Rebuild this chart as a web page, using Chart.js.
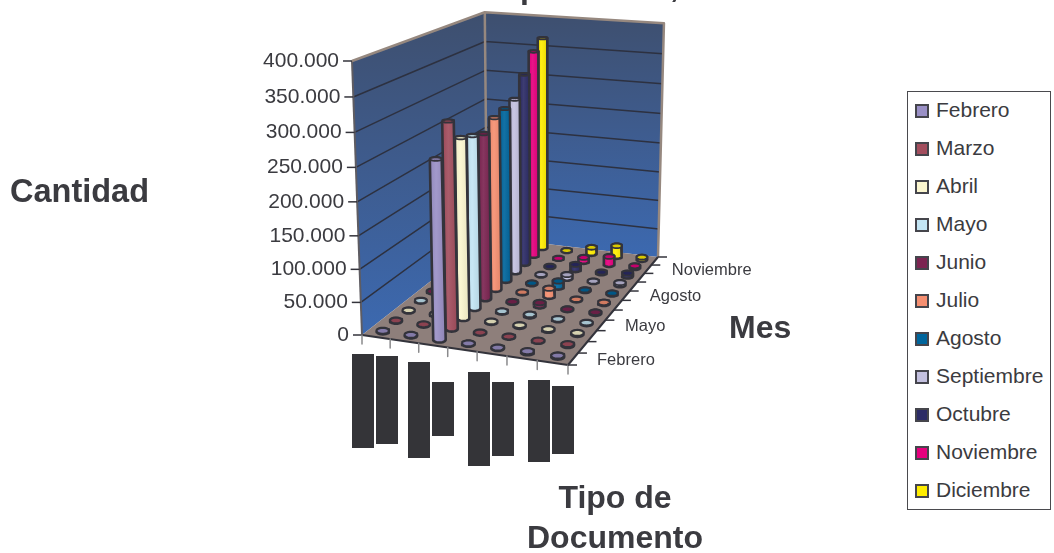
<!DOCTYPE html>
<html lang="es">
<head>
<meta charset="UTF-8">
<title>Cantidad por tipo de documento y mes</title>
<script src="https://cdn.jsdelivr.net/npm/chart.js"></script>
<style>
    html, body { margin: 0; padding: 0; background: #fff; overflow: hidden; }
    body { width: 1054px; height: 553px; position: relative; font-family: "Liberation Sans", Arial, sans-serif; }
    canvas { position: absolute; left: 0; top: 0; }
    #legend {
        position: absolute; left: 907px; top: 91px; width: 142px; height: 417px;
        border: 1px solid #4a4a4e; background: #fff; box-sizing: content-box;
    }
    .legend-item {
        position: absolute; left: 7px; height: 38px; line-height: 36px;
        font-size: 21px; color: #3b3b40; white-space: nowrap;
    }
    .legend-color {
        position: absolute; left: 0; top: 12px; width: 10px; height: 10px;
        border: 2px solid #45454c;
    }
    .legend-item b { font-weight: normal; margin-left: 21px; }
</style>
</head>
<body>
<canvas id="chart" width="1054" height="553"></canvas>
<div id="legend"></div>

<script>
// datos
const meses = ['Febrero', 'Marzo', 'Abril', 'Mayo', 'Junio', 'Julio', 'Agosto', 'Septiembre', 'Octubre', 'Noviembre', 'Diciembre'];
const etiquetasMes = ['Febrero', 'Mayo', 'Agosto', 'Noviembre'];
const ticksCantidad = [0, 50000, 100000, 150000, 200000, 250000, 300000, 350000, 400000];
const cantidadMax = 400000;
const numTipos = 7; // tipos de documento, nombres tapados en el original

const febrero    = [1200, 1200, 267000,  800,   800,  1800, 1800];
const marzo      = [ 800,  800, 311000,  500,   500,   500, 1500];
const abril      = [ 800,  800, 277000, 1200,  1500,  1500, 1800];
const mayo       = [ 800,  800, 270000, 1200,  2000,  1000, 1200];
const junio      = [ 500,  500, 263000,  800,  5000,   500, 1500];
const julio      = [ 500,  500, 278000, 1000, 13000,   800, 1500];
const agosto     = [ 500,  500, 283000, 1000, 10000,   800, 1200];
const septiembre = [ 500,  500, 289000,  800,  6000,   500, 3500];
const octubre    = [ 300,  300, 321000,  200,  9000,  1200, 5000];
const noviembre  = [ 200,  200, 351000,  200,  7000, 14000, 3000];
const diciembre  = [ 200,  200, 366000,  200, 11000, 19000, 4000];
const series = [febrero, marzo, abril, mayo, junio, julio, agosto, septiembre, octubre, noviembre, diciembre];

const colores = ['#9a90c6', '#a34e5e', '#fbf6cf', '#c3e5f4', '#7c2451', '#f58f71', '#00659c', '#c3c0df', '#2c2b66', '#e6007e', '#ffed00'];

const TINTA = '#33333b';
const TEXTO = '#3b3b40';
const TAUPE = '#96887f';

// proyeccion de la caja 3D al lienzo: suelo (homografia) + punto de fuga vertical
const suelo = { o: [362, 335], u: [568, 365], uv: [658, 257], v: [487, 237] };
const fuga = [535, 5084];
const alturaC = -0.05455;

const dx1 = suelo.u[0] - suelo.uv[0], dx2 = suelo.v[0] - suelo.uv[0], sx = suelo.o[0] - suelo.u[0] + suelo.uv[0] - suelo.v[0];
const dy1 = suelo.u[1] - suelo.uv[1], dy2 = suelo.v[1] - suelo.uv[1], sy = suelo.o[1] - suelo.u[1] + suelo.uv[1] - suelo.v[1];
const den = dx1 * dy2 - dx2 * dy1;
const g = (sx * dy2 - dx2 * sy) / den;
const h = (dx1 * sy - sx * dy1) / den;

function proyecta(u, v, f) {
    const w = 1 + g * u + h * v;
    const nx = suelo.o[0] + (suelo.u[0] - suelo.o[0] + g * suelo.u[0]) * u + (suelo.v[0] - suelo.o[0] + h * suelo.v[0]) * v;
    const ny = suelo.o[1] + (suelo.u[1] - suelo.o[1] + g * suelo.u[1]) * u + (suelo.v[1] - suelo.o[1] + h * suelo.v[1]) * v;
    const c = alturaC * f;
    return { x: (nx + c * fuga[0]) / (w + c), y: (ny + c * fuga[1]) / (w + c) };
}

function envolvente(pts) {
    const p = pts.slice().sort((a, b) => a.x - b.x || a.y - b.y);
    const cross = (o, a, b) => (a.x - o.x) * (b.y - o.y) - (a.y - o.y) * (b.x - o.x);
    const lo = [], up = [];
    p.forEach(q => {
        while (lo.length > 1 && cross(lo[lo.length - 2], lo[lo.length - 1], q) <= 0) lo.pop();
        lo.push(q);
    });
    p.slice().reverse().forEach(q => {
        while (up.length > 1 && cross(up[up.length - 2], up[up.length - 1], q) <= 0) up.pop();
        up.push(q);
    });
    lo.pop(); up.pop();
    return lo.concat(up);
}

function mezcla(hex, a) {
    // a>0 aclara, a<0 oscurece
    const n = parseInt(hex.slice(1), 16);
    const t = a > 0 ? 255 : 0, k = Math.abs(a);
    const c = [n >> 16, (n >> 8) & 255, n & 255].map(v => Math.round(v + (t - v) * k));
    return `rgb(${c[0]},${c[1]},${c[2]})`;
}

const canvas = document.getElementById('chart');
const ctx = canvas.getContext('2d');
const capas = [];

function poly(pts, fillColor, lineColor, lineWidth, label) {
    const cerrado = fillColor ? pts.concat([pts[0]]) : pts;
    capas.push({
        label: label || '',
        data: cerrado,
        showLine: true,
        fill: fillColor ? 'shape' : false,
        backgroundColor: fillColor || 'transparent',
        borderColor: lineColor || 'transparent',
        borderWidth: lineColor ? lineWidth : 0,
        borderJoinStyle: 'round',
        borderCapStyle: 'butt',
        pointRadius: 0,
        pointHoverRadius: 0,
        clip: false
    });
}

// paredes
const degrPared = ctx.createLinearGradient(0, 11, 0, 335);
degrPared.addColorStop(0, '#3e4f6e');
degrPared.addColorStop(0.5, '#3e5c8f');
degrPared.addColorStop(1, '#3c69b0');
const degrFondo = ctx.createLinearGradient(0, 11, 0, 257);
degrFondo.addColorStop(0, '#3e4f6e');
degrFondo.addColorStop(0.5, '#3e5c8f');
degrFondo.addColorStop(1, '#3c69b0');

poly([proyecta(0, 0, 0), proyecta(0, 1, 0), proyecta(0, 1, 1), proyecta(0, 0, 1)], degrPared);
poly([proyecta(0, 1, 0), proyecta(1, 1, 0), proyecta(1, 1, 1), proyecta(0, 1, 1)], degrFondo);
poly([proyecta(0, 0, 0), proyecta(1, 0, 0), proyecta(1, 1, 0), proyecta(0, 1, 0)], '#8e7f7b');

// rejilla en las paredes
ticksCantidad.slice(1, -1).forEach(t => {
    const f = t / cantidadMax;
    poly([proyecta(0, 0, f), proyecta(0, 1, f), proyecta(1, 1, f)], null, '#2d3140', 1.5);
});

// bordes
poly([proyecta(0, 0, 0), proyecta(0, 0, 1)], null, '#5e5c62', 2);
poly([proyecta(0, 0, 1), proyecta(0, 1, 1), proyecta(1, 1, 1), proyecta(1, 1, 0)], null, TAUPE, 2.5);
poly([proyecta(0, 1, 0), proyecta(0, 1, 1)], null, TAUPE, 2.5);
poly([proyecta(0, 0, 0), proyecta(1, 0, 0), proyecta(1, 1, 0)], null, TINTA, 2);

// marcas de los ejes
ticksCantidad.forEach(t => {
    const p = proyecta(0, 0, t / cantidadMax);
    poly([{ x: p.x - 9, y: p.y }, p], null, TINTA, 1.5);
});
for (let i = 0; i <= numTipos; i++) {
    const p = proyecta(i / numTipos, 0, 0);
    poly([p, { x: p.x, y: p.y + 9 }], null, '#8a8a8c', 1.5);
}
for (let j = 0; j <= meses.length; j++) {
    const p = proyecta(1, j / meses.length, 0);
    poly([p, { x: p.x + 9, y: p.y }], null, TINTA, 1.5);
}

// etiquetas de categoria tapadas en el original: [izq, der, arriba, abajo]
const tapados = [
    [352, 374, 354, 448], [376, 398, 356, 444], [408, 430, 362, 458], [432, 454, 382, 436],
    [468, 490, 372, 466], [492, 514, 382, 456], [528, 550, 380, 462], [552, 574, 386, 454]
];
tapados.forEach(b => poly([{ x: b[0], y: b[2] }, { x: b[1], y: b[2] }, { x: b[1], y: b[3] }, { x: b[0], y: b[3] }], '#343438'));

// cilindros, de atras hacia delante (elipses horizontales en pantalla)
function elipse(c, a, b) {
    const pts = [];
    for (let k = 0; k < 24; k++) {
        const t = k / 24 * Math.PI * 2;
        pts.push({ x: c.x + a * Math.cos(t), y: c.y + b * Math.sin(t) });
    }
    return pts;
}
for (let m = meses.length - 1; m >= 0; m--) {
    for (let t = 0; t < numTipos; t++) {
        const u = (t + 0.5) / numTipos, v = (m + 0.5) / meses.length;
        const f = series[m][t] / cantidadMax;
        const escala = 1 / (1 + g * u + h * v);
        const a = 6.2 * escala;
        const base = elipse(proyecta(u, v, 0), a, 2.8 * escala);
        const tapa = elipse(proyecta(u, v, f), a * (1 - 0.06 * f), (2.8 - 1.6 * f) * escala);
        const cuerpo = envolvente(base.concat(tapa));
        const xs = cuerpo.map(p => p.x);
        const gr = ctx.createLinearGradient(Math.min(...xs), 0, Math.max(...xs), 0);
        gr.addColorStop(0, mezcla(colores[m], -0.05));
        gr.addColorStop(0.4, mezcla(colores[m], 0.08));
        gr.addColorStop(1, mezcla(colores[m], -0.08));
        poly(cuerpo, gr, TINTA, 2.6, meses[m]);
        poly(tapa, mezcla(colores[m], -0.15), TINTA, 1.8, meses[m]);
    }
}

const textos = {
    id: 'textos',
    afterDraw(chart) {
        const c = chart.ctx, X = chart.scales.x, Y = chart.scales.y;
        c.save();
        c.fillStyle = TEXTO;
        c.textBaseline = 'middle';
        // eje de cantidad
        c.font = '21px "Liberation Sans", Arial, sans-serif';
        c.textAlign = 'right';
        ticksCantidad.forEach(t => {
            const p = proyecta(0, 0, t / cantidadMax);
            const txt = t === 0 ? '0' : t.toLocaleString('de-DE');
            c.fillText(txt, X.getPixelForValue(p.x - 13), Y.getPixelForValue(p.y));
        });
        // eje de meses
        c.font = '16.5px "Liberation Sans", Arial, sans-serif';
        c.textAlign = 'left';
        etiquetasMes.forEach(nombre => {
            const p = proyecta(1, (meses.indexOf(nombre) + 0.5) / meses.length, 0);
            c.fillText(nombre, X.getPixelForValue(p.x + 24), Y.getPixelForValue(p.y + 1));
        });
        // titulos
        c.font = 'bold 32.5px "Liberation Sans", Arial, sans-serif';
        c.fillText('Cantidad', 10, 193);
        c.font = 'bold 32px "Liberation Sans", Arial, sans-serif';
        c.fillText('Mes', 729, 329);
        c.textAlign = 'center';
        c.fillText('Tipo de', 615, 499);
        c.fillText('Documento', 615, 539);
        // lo unico visible del titulo, cortado por el borde superior
        c.textBaseline = 'alphabetic';
        c.textAlign = 'left';
        c.fillText('p', 520, -2);
        c.fillText(',', 670, -3);
        c.restore();
    }
};

new Chart(ctx, {
    type: 'scatter',
    data: { datasets: capas.reverse() }, // el primer dataset se pinta encima
    options: {
        responsive: false,
        animation: false,
        events: [],
        layout: { padding: 0 },
        plugins: { legend: { display: false }, tooltip: { enabled: false } },
        scales: {
            x: { type: 'linear', display: false, min: 0, max: 1054 },
            y: { type: 'linear', display: false, min: 0, max: 553, reverse: true }
        }
    },
    plugins: [textos]
});

// leyenda propia
const legend = document.getElementById('legend');
meses.forEach((mes, i) => {
    const item = document.createElement('div');
    item.className = 'legend-item';
    item.style.top = (i * 38) + 'px';
    item.innerHTML = `<span class="legend-color" style="background:${colores[i]}"></span><b>${mes}</b>`;
    legend.appendChild(item);
});
</script>
</body>
</html>
